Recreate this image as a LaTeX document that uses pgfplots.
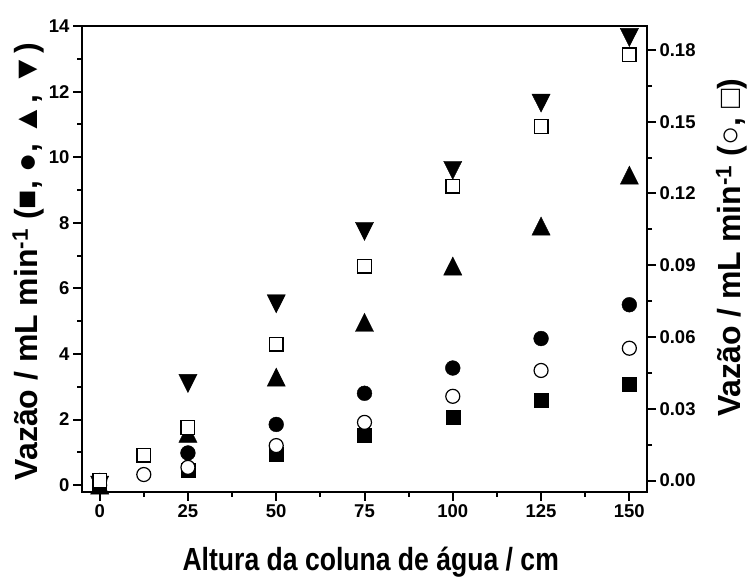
\documentclass[border=0pt]{standalone}
\usepackage{fontspec}
\setmainfont{Liberation Sans}
\usepackage{graphicx}
\usepackage{pgfplots}
\pgfplotsset{compat=1.18}

\pgfplotsset{
  vazao/.style={
    scale only axis, width=565pt, height=466pt,
    xmin=-5, xmax=155,
    axis line style={line width=2.6pt},
    tick align=outside,
    major tick length=9pt, minor tick length=5pt,
    tick style={black, line width=2pt},
    tick label style={font=\fontsize{18.5}{18.5}\selectfont\bfseries},
    /pgf/number format/assume math mode=true,
    label style={font=\fontsize{32}{34}\selectfont\bfseries},
  },
  fsq/.style={only marks, mark=square*, mark size=7pt, mark options={fill=black, draw=black}},
  fci/.style={only marks, mark=*, mark size=7.4pt, mark options={fill=black, draw=black}},
  utr/.style={only marks, mark=triangle*, mark size=10.5pt,
    mark options={fill=black, draw=black, yscale=1.15, yshift=-2.6pt}},
  dtr/.style={only marks, mark=triangle*, mark size=10.5pt,
    mark options={fill=black, draw=black, rotate=180, yscale=1.15, yshift=-2.6pt}},
  oci/.style={only marks, mark=*, mark size=7pt, mark options={fill=white, draw=black, line width=1.2pt}},
  osq/.style={only marks, mark=square*, mark size=6.8pt, mark options={fill=white, draw=black, line width=1.4pt}},
}

\begin{document}
\begin{tikzpicture}
\useasboundingbox (0,0) rectangle (747pt,577pt);

% left axis: flow rates of the filled-symbol series
\begin{axis}[vazao,
  at={(82pt,85pt)}, anchor=south west,
  ymin=-0.21, ymax=14,
  xtick={0,25,50,75,100,125,150}, minor x tick num=1,
  ytick={0,2,4,6,8,10,12,14}, minor y tick num=1,
  xtick pos=bottom, ytick pos=left,
  xlabel={\scalebox{0.83}[1]{Altura da coluna de água / cm}},
  xlabel style={at={(axis description cs:0.511,-0.1674)}, anchor=base},
  ylabel={Vazão / mL min\textsuperscript{-1} (■, ●, ▲, ▼)},
  ylabel style={at={(axis description cs:-0.0796,0.494)}, anchor=base, rotate=0},
]
\addplot[fsq] coordinates {(0,0) (25,0.45) (50,0.95) (75,1.52) (100,2.07) (125,2.6) (150,3.08)};
\addplot[fci] coordinates {(0,0) (25,0.98) (50,1.85) (75,2.8) (100,3.57) (125,4.47) (150,5.5)};
\addplot[utr] coordinates {(0,0) (25,1.58) (50,3.29) (75,4.96) (100,6.68) (125,7.9) (150,9.45)};
\addplot[dtr] coordinates {(0,0) (25,3.1) (50,5.53) (75,7.74) (100,9.6) (125,11.65) (150,13.65)};
\end{axis}

% right axis: flow rates of the open-symbol series
\begin{axis}[vazao,
  at={(82pt,85pt)}, anchor=south west,
  axis x line=none, axis y line*=right,
  ymin=-0.0048, ymax=0.19,
  ytick={0,0.03,0.06,0.09,0.12,0.15,0.18}, minor y tick num=1,
  scaled y ticks=false,
  yticklabel style={/pgf/number format/.cd, fixed, fixed zerofill, precision=2},
  ylabel={Vazão / mL min\textsuperscript{-1} (○, □)},
  ylabel style={at={(axis description cs:1.1655,0.524)}, anchor=base, rotate=0},
]
\addplot[oci] coordinates {(0,0) (12.5,0.0025) (25,0.0055) (50,0.0146) (75,0.0243) (100,0.0352) (125,0.046) (150,0.0553)};
\addplot[osq] coordinates {(0,0) (12.5,0.0105) (25,0.0222) (50,0.0569) (75,0.0896) (100,0.123) (125,0.148) (150,0.178)};
\end{axis}
\end{tikzpicture}
\end{document}
